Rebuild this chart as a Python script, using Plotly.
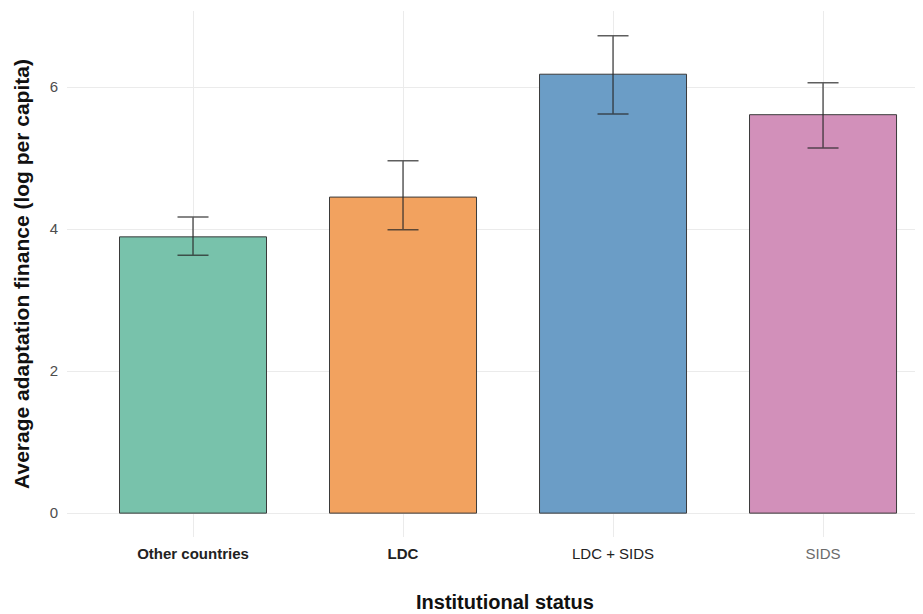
import plotly.graph_objects as go

categories = ["Other countries", "LDC", "LDC + SIDS", "SIDS"]
tick_labels = ["<b>Other countries</b>", "<b>LDC</b>", "LDC + SIDS", "<span style='color:#6b6b6b'>SIDS</span>"]
means = [3.89, 4.45, 6.18, 5.61]
upper = [4.17, 4.96, 6.72, 6.06]
lower = [3.63, 3.99, 5.62, 5.14]
colors = ["#78C2AB", "#F2A25F", "#6B9DC6", "#D290BA"]

err_plus = [u - m for u, m in zip(upper, means)]
err_minus = [m - l for m, l in zip(means, lower)]

fig = go.Figure()
fig.add_trace(go.Bar(
    x=categories, y=means, width=0.7,
    marker=dict(color=colors, line=dict(color="#3a3a3a", width=1)),
    error_y=dict(type="data", symmetric=False, array=err_plus, arrayminus=err_minus,
                 color="rgba(40,40,40,0.75)", thickness=1.5, width=15.5),
    showlegend=False,
))

fig.update_layout(
    width=923, height=614,
    margin=dict(l=59, r=8, t=3, b=85),
    paper_bgcolor="white", plot_bgcolor="white",
    font=dict(family="Liberation Sans, Arial, sans-serif", color="#222"),
    xaxis=dict(
        range=[-0.6, 3.476], tickmode="array", tickvals=categories, ticktext=tick_labels,
        showgrid=True, gridcolor="#EBEBEB", gridwidth=1, zeroline=False, showline=False,
        ticks="", tickfont=dict(size=15, color="#222"), ticklabelstandoff=6, automargin=False,
    ),
    yaxis=dict(
        range=[-0.336, 7.07], tickvals=[0, 2, 4, 6],
        showgrid=True, gridcolor="#EBEBEB", gridwidth=1, zeroline=False, showline=False,
        ticks="", tickfont=dict(size=15, color="#4D4D4D"), ticklabelstandoff=8, automargin=False,
        title=dict(text="<b>Average adaptation finance (log per capita)</b>", font=dict(size=21, color="#111"), standoff=14),
    ),
    annotations=[dict(
        text="<b>Institutional status</b>", xref="paper", yref="paper", x=0.5117, y=0,
        xanchor="center", yanchor="middle", yshift=-65, showarrow=False,
        font=dict(size=20, color="#111"),
    )],
)

fig.write_html("out.html")
